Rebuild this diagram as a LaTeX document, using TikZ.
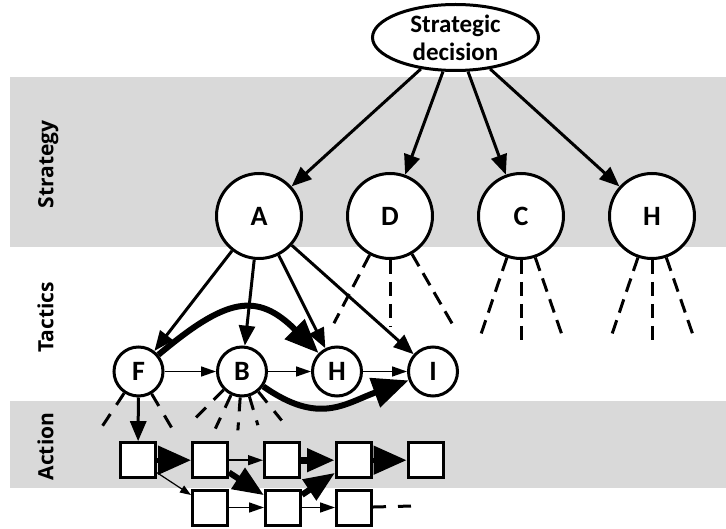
\documentclass[tikz,border=0pt]{standalone}
\usepackage{fontspec}
\setmainfont{Carlito}
\newfontfamily\labelfont{Open Sans}
\usetikzlibrary{arrows.meta,shapes.geometric}
\definecolor{bandgray}{RGB}{217,217,217}
\begin{document}
\begin{tikzpicture}[x=1pt,y=1pt,
  side/.style={font=\labelfont\bfseries\fontsize{21}{24}\selectfont, rotate=90, anchor=base},
  bigc/.style={circle,draw,line width=3pt,fill=white,minimum size=85pt,inner sep=0pt,font=\bfseries\fontsize{28}{30}\selectfont},
  smallc/.style={circle,draw,line width=3pt,fill=white,minimum size=49pt,inner sep=0pt,font=\bfseries\fontsize{28}{30}\selectfont},
  sq/.style={rectangle,draw,line width=3pt,fill=white,minimum size=35pt,inner sep=0pt},
  med/.style={line width=3pt,-{Triangle[length=20pt,width=16pt]}},
  thinarr/.style={line width=1.5pt,-{Triangle[length=15pt,width=10pt]}},
  tinyarr/.style={line width=1.2pt,-{Triangle[length=11pt,width=8pt]}},
  curvearr/.style={line width=6pt,-{Triangle[length=34pt,width=27pt]}},
  curvearrb/.style={line width=6pt,-{Triangle[length=36pt,width=30pt]}},
  bighead/.style={line width=5pt,-{Triangle[length=33pt,width=28pt]}},
  midhead/.style={line width=7pt,-{Triangle[length=28pt,width=22pt]}},
  diagarr/.style={line width=6pt,-{Triangle[length=31pt,width=24pt]}},
  ray/.style={line width=3pt,dash pattern=on 14pt off 8pt},
  rayb/.style={line width=3pt,dash pattern=on 14pt off 11pt},
  tailray/.style={line width=3pt,dash pattern=on 13pt off 12pt}
]
\useasboundingbox (0,0) rectangle (726,528);
% bands
\fill[bandgray] (9.5,281) rectangle (726,451);
\fill[bandgray] (9.5,40) rectangle (726,127);
% side labels
\node[side] (lstrat) at (53.3,363.5) {Strategy};
\node[side] (ltact) at (53.3,210.5) {Tactics};
\node[side] (lact) at (53.3,81.5) {Action};
% nodes
\node[ellipse,draw,line width=3pt,fill=white,minimum width=166pt,minimum height=66pt,inner sep=0pt,align=center,font=\bfseries\fontsize{25}{28}\selectfont] (sd) at (455.5,490.5) {Strategic\\decision};
\node[bigc] (A) at (259,312) {A};
\node[bigc] (D) at (390,312) {D};
\node[bigc] (C) at (521,312) {C};
\node[bigc] (Hs) at (652,312) {H};
\node[smallc] (F) at (138.5,156.5) {F};
\node[smallc] (B) at (242,156.5) {B};
\node[smallc] (Ht) at (337,156.5) {H};
\node[smallc] (I) at (433,156.5) {I};
\node[sq] (s1) at (138,67.8) {};
\node[sq] (s2) at (210,67.8) {};
\node[sq] (s3) at (282,67.8) {};
\node[sq] (s4) at (354,67.8) {};
\node[sq] (s5) at (425.5,67.8) {};
\node[sq] (t2) at (210,20.5) {};
\node[sq] (t3) at (283,20.5) {};
\node[sq] (t4) at (354,20.5) {};
% ray end points
\path (D) ++(-117.6:121) coordinate (d1);
\path (D) ++(-90:111) coordinate (d2);
\path (D) ++(-60:128) coordinate (d3);
\path (C) ++(-108.7:131) coordinate (c1);
\path (C) ++(-90:131) coordinate (c2);
\path (C) ++(-71:131) coordinate (c3);
\path (Hs) ++(-108.7:131) coordinate (h1);
\path (Hs) ++(-90:131) coordinate (h2);
\path (Hs) ++(-71:131) coordinate (h3);
\path (F) ++(-123.5:67) coordinate (f1);
\path (F) ++(-59.5:65) coordinate (f2);
\path (B) ++(-135:66) coordinate (b1);
\path (B) ++(-115:63) coordinate (b2);
\path (B) ++(-94:59) coordinate (b3);
\path (B) ++(-73.5:56) coordinate (b4);
\path (B) ++(-51:63) coordinate (b5);
\coordinate (tail) at (413,22);
% rays
\foreach \e in {d1,d2,d3} \draw[ray] (D) -- (\e);
\foreach \e in {c1,c2,c3} \draw[ray] (C) -- (\e);
\foreach \e in {h1,h2,h3} \draw[ray] (Hs) -- (\e);
\foreach \e in {f1,f2} \draw[rayb] (F) -- (\e);
\foreach \e in {b1,b2,b3,b4,b5} \draw[rayb] (B) -- (\e);
% strategy arrows
\foreach \t in {A,D,C,Hs} \draw[med] (sd) -- (\t);
% tactics arrows
\foreach \t in {F,B,Ht,I} \draw[med] (A) -- (\t);
\draw[thinarr] (F) -- (B);
\draw[thinarr] (B) -- (Ht);
\draw[thinarr] (Ht) -- (I);
\draw[curvearr] (F) to[out=40,in=135,looseness=1.4] (Ht);
\draw[curvearrb] (B) to[out=-35,in=200,looseness=1.2] (I);
% action arrows
\draw[med] (F) -- (s1);
\draw[bighead] (s1) -- (s2);
\draw[thinarr] (s2) -- (s3);
\draw[midhead] (s3) -- (s4);
\draw[bighead] (s4) -- (s5);
\draw[tinyarr] (s1) -- (t2);
\draw[diagarr] (s2) -- (t3);
\draw[diagarr] (t3) -- (s4);
\draw[thinarr] (t2) -- (t3);
\draw[thinarr] (t3) -- (t4);
\draw[tailray] (t4) -- (tail);
\end{tikzpicture}
\end{document}
